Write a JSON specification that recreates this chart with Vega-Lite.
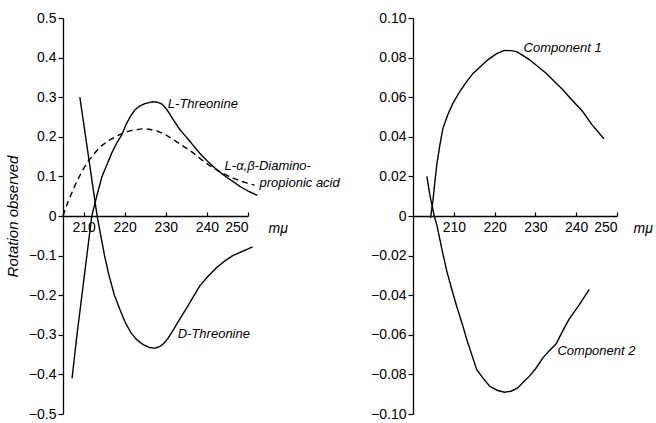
{
  "$schema": "https://vega.github.io/schema/vega-lite/v6.json",
  "padding": {"left": 5, "top": 11, "right": 0, "bottom": 0},
  "spacing": 165,
  "bounds": "flush",
  "config": {
    "view": {"stroke": null},
    "axis": {"labelFont": "Liberation Sans", "labelFontSize": 14, "labelColor": "black", "domainColor": "black", "tickColor": "black", "grid": false, "titleColor": "black", "titleFont": "Liberation Sans", "domainWidth": 1.3, "tickWidth": 1.2, "labelOverlap": false},
    "text": {"font": "Liberation Sans", "fontSize": 13, "fontStyle": "italic", "align": "left", "color": "black"}
  },
  "datasets": {
    "left": [
      {"series": "L-Threonine", "wl": 207.2, "rot": -0.41},
      {"series": "L-Threonine", "wl": 208.4, "rot": -0.30},
      {"series": "L-Threonine", "wl": 209.6, "rot": -0.20},
      {"series": "L-Threonine", "wl": 210.8, "rot": -0.10},
      {"series": "L-Threonine", "wl": 212.0, "rot": 0.0},
      {"series": "L-Threonine", "wl": 213.2, "rot": 0.05},
      {"series": "L-Threonine", "wl": 214.5, "rot": 0.10},
      {"series": "L-Threonine", "wl": 215.7, "rot": 0.13},
      {"series": "L-Threonine", "wl": 216.9, "rot": 0.16},
      {"series": "L-Threonine", "wl": 218.1, "rot": 0.185},
      {"series": "L-Threonine", "wl": 219.3, "rot": 0.205},
      {"series": "L-Threonine", "wl": 220.3, "rot": 0.23},
      {"series": "L-Threonine", "wl": 221.3, "rot": 0.25},
      {"series": "L-Threonine", "wl": 222.5, "rot": 0.268},
      {"series": "L-Threonine", "wl": 223.7, "rot": 0.278},
      {"series": "L-Threonine", "wl": 225.0, "rot": 0.284},
      {"series": "L-Threonine", "wl": 226.5, "rot": 0.288},
      {"series": "L-Threonine", "wl": 227.8, "rot": 0.288},
      {"series": "L-Threonine", "wl": 229.0, "rot": 0.283},
      {"series": "L-Threonine", "wl": 230.2, "rot": 0.27},
      {"series": "L-Threonine", "wl": 231.7, "rot": 0.245},
      {"series": "L-Threonine", "wl": 233.3, "rot": 0.22},
      {"series": "L-Threonine", "wl": 235.1, "rot": 0.198},
      {"series": "L-Threonine", "wl": 236.7, "rot": 0.178},
      {"series": "L-Threonine", "wl": 238.3, "rot": 0.158},
      {"series": "L-Threonine", "wl": 240.0, "rot": 0.14},
      {"series": "L-Threonine", "wl": 241.4, "rot": 0.126},
      {"series": "L-Threonine", "wl": 243.0, "rot": 0.112},
      {"series": "L-Threonine", "wl": 244.8, "rot": 0.098},
      {"series": "L-Threonine", "wl": 246.5, "rot": 0.086},
      {"series": "L-Threonine", "wl": 248.0, "rot": 0.075},
      {"series": "L-Threonine", "wl": 250.0, "rot": 0.063},
      {"series": "L-Threonine", "wl": 252.3, "rot": 0.052},
      {"series": "D-Threonine", "wl": 209.1, "rot": 0.30},
      {"series": "D-Threonine", "wl": 211.2, "rot": 0.15},
      {"series": "D-Threonine", "wl": 213.3, "rot": 0.0},
      {"series": "D-Threonine", "wl": 214.2, "rot": -0.05},
      {"series": "D-Threonine", "wl": 215.2, "rot": -0.105},
      {"series": "D-Threonine", "wl": 216.2, "rot": -0.15},
      {"series": "D-Threonine", "wl": 217.5, "rot": -0.20},
      {"series": "D-Threonine", "wl": 218.8, "rot": -0.235},
      {"series": "D-Threonine", "wl": 220.2, "rot": -0.27},
      {"series": "D-Threonine", "wl": 221.6, "rot": -0.296},
      {"series": "D-Threonine", "wl": 223.0, "rot": -0.313},
      {"series": "D-Threonine", "wl": 224.5, "rot": -0.325},
      {"series": "D-Threonine", "wl": 226.0, "rot": -0.332},
      {"series": "D-Threonine", "wl": 227.3, "rot": -0.334},
      {"series": "D-Threonine", "wl": 228.5, "rot": -0.33},
      {"series": "D-Threonine", "wl": 229.5, "rot": -0.322},
      {"series": "D-Threonine", "wl": 230.6, "rot": -0.308},
      {"series": "D-Threonine", "wl": 231.7, "rot": -0.29},
      {"series": "D-Threonine", "wl": 233.3, "rot": -0.262},
      {"series": "D-Threonine", "wl": 235.1, "rot": -0.232},
      {"series": "D-Threonine", "wl": 236.7, "rot": -0.204},
      {"series": "D-Threonine", "wl": 238.3, "rot": -0.176},
      {"series": "D-Threonine", "wl": 240.3, "rot": -0.152},
      {"series": "D-Threonine", "wl": 242.4, "rot": -0.13},
      {"series": "D-Threonine", "wl": 244.3, "rot": -0.114},
      {"series": "D-Threonine", "wl": 246.3, "rot": -0.1},
      {"series": "D-Threonine", "wl": 248.5, "rot": -0.09},
      {"series": "D-Threonine", "wl": 251.1, "rot": -0.078},
      {"series": "Diaminopropionic", "wl": 205.0, "rot": 0.0},
      {"series": "Diaminopropionic", "wl": 206.0, "rot": 0.03},
      {"series": "Diaminopropionic", "wl": 207.2, "rot": 0.06},
      {"series": "Diaminopropionic", "wl": 208.4, "rot": 0.088},
      {"series": "Diaminopropionic", "wl": 209.6, "rot": 0.112},
      {"series": "Diaminopropionic", "wl": 210.8, "rot": 0.134},
      {"series": "Diaminopropionic", "wl": 212.4, "rot": 0.155},
      {"series": "Diaminopropionic", "wl": 214.0, "rot": 0.174},
      {"series": "Diaminopropionic", "wl": 216.0, "rot": 0.19},
      {"series": "Diaminopropionic", "wl": 218.1, "rot": 0.202},
      {"series": "Diaminopropionic", "wl": 220.0, "rot": 0.211},
      {"series": "Diaminopropionic", "wl": 222.0, "rot": 0.217},
      {"series": "Diaminopropionic", "wl": 224.2, "rot": 0.22},
      {"series": "Diaminopropionic", "wl": 226.0, "rot": 0.219},
      {"series": "Diaminopropionic", "wl": 227.8, "rot": 0.215},
      {"series": "Diaminopropionic", "wl": 229.8, "rot": 0.206},
      {"series": "Diaminopropionic", "wl": 231.7, "rot": 0.194},
      {"series": "Diaminopropionic", "wl": 234.0, "rot": 0.178},
      {"series": "Diaminopropionic", "wl": 236.6, "rot": 0.16},
      {"series": "Diaminopropionic", "wl": 238.6, "rot": 0.143},
      {"series": "Diaminopropionic", "wl": 240.7, "rot": 0.127},
      {"series": "Diaminopropionic", "wl": 242.8, "rot": 0.114},
      {"series": "Diaminopropionic", "wl": 244.8, "rot": 0.103},
      {"series": "Diaminopropionic", "wl": 246.5, "rot": 0.095},
      {"series": "Diaminopropionic", "wl": 248.0, "rot": 0.089},
      {"series": "Diaminopropionic", "wl": 249.8, "rot": 0.083},
      {"series": "Diaminopropionic", "wl": 251.6, "rot": 0.078}
    ],
    "leftLabels": [
      {"label": "L-Threonine", "wl": 230.5, "rot": 0.283},
      {"label": "L-α,β-Diamino-", "wl": 244.3, "rot": 0.127},
      {"label": "propionic acid", "wl": 252.8, "rot": 0.083},
      {"label": "D-Threonine", "wl": 232.9, "rot": -0.297}
    ],
    "right": [
      {"series": "Component 1", "wl": 204.3, "rot": -0.001},
      {"series": "Component 1", "wl": 204.9, "rot": 0.008},
      {"series": "Component 1", "wl": 205.4, "rot": 0.018},
      {"series": "Component 1", "wl": 205.9, "rot": 0.027},
      {"series": "Component 1", "wl": 206.6, "rot": 0.036},
      {"series": "Component 1", "wl": 207.3, "rot": 0.044},
      {"series": "Component 1", "wl": 208.5, "rot": 0.051},
      {"series": "Component 1", "wl": 209.8, "rot": 0.057},
      {"series": "Component 1", "wl": 211.5, "rot": 0.063},
      {"series": "Component 1", "wl": 213.2, "rot": 0.068},
      {"series": "Component 1", "wl": 214.7, "rot": 0.072},
      {"series": "Component 1", "wl": 216.3, "rot": 0.075},
      {"series": "Component 1", "wl": 218.4, "rot": 0.079},
      {"series": "Component 1", "wl": 220.5, "rot": 0.082},
      {"series": "Component 1", "wl": 222.4, "rot": 0.0836},
      {"series": "Component 1", "wl": 224.0, "rot": 0.0835},
      {"series": "Component 1", "wl": 225.4, "rot": 0.083},
      {"series": "Component 1", "wl": 227.0, "rot": 0.081},
      {"series": "Component 1", "wl": 228.5, "rot": 0.079},
      {"series": "Component 1", "wl": 230.6, "rot": 0.0755},
      {"series": "Component 1", "wl": 232.7, "rot": 0.072},
      {"series": "Component 1", "wl": 234.6, "rot": 0.068},
      {"series": "Component 1", "wl": 236.6, "rot": 0.064},
      {"series": "Component 1", "wl": 239.0, "rot": 0.0585},
      {"series": "Component 1", "wl": 241.5, "rot": 0.053},
      {"series": "Component 1", "wl": 243.9, "rot": 0.046},
      {"series": "Component 1", "wl": 246.8, "rot": 0.039},
      {"series": "Component 2", "wl": 203.4, "rot": 0.02},
      {"series": "Component 2", "wl": 204.1, "rot": 0.011},
      {"series": "Component 2", "wl": 204.6, "rot": 0.006},
      {"series": "Component 2", "wl": 205.2, "rot": 0.0},
      {"series": "Component 2", "wl": 205.9, "rot": -0.005},
      {"series": "Component 2", "wl": 207.1, "rot": -0.017},
      {"series": "Component 2", "wl": 208.3, "rot": -0.028},
      {"series": "Component 2", "wl": 209.5, "rot": -0.037},
      {"series": "Component 2", "wl": 210.7, "rot": -0.0456},
      {"series": "Component 2", "wl": 212.0, "rot": -0.054},
      {"series": "Component 2", "wl": 213.2, "rot": -0.0625},
      {"series": "Component 2", "wl": 214.4, "rot": -0.07},
      {"series": "Component 2", "wl": 215.6, "rot": -0.0775},
      {"series": "Component 2", "wl": 217.2, "rot": -0.082},
      {"series": "Component 2", "wl": 218.8, "rot": -0.086},
      {"series": "Component 2", "wl": 220.6, "rot": -0.088},
      {"series": "Component 2", "wl": 222.4, "rot": -0.089},
      {"series": "Component 2", "wl": 224.0, "rot": -0.0885},
      {"series": "Component 2", "wl": 225.6, "rot": -0.087},
      {"series": "Component 2", "wl": 227.0, "rot": -0.084},
      {"series": "Component 2", "wl": 228.5, "rot": -0.081},
      {"series": "Component 2", "wl": 230.1, "rot": -0.077},
      {"series": "Component 2", "wl": 231.7, "rot": -0.072},
      {"series": "Component 2", "wl": 233.4, "rot": -0.068},
      {"series": "Component 2", "wl": 235.1, "rot": -0.0645},
      {"series": "Component 2", "wl": 236.7, "rot": -0.058},
      {"series": "Component 2", "wl": 238.3, "rot": -0.052},
      {"series": "Component 2", "wl": 240.7, "rot": -0.045},
      {"series": "Component 2", "wl": 243.2, "rot": -0.037}
    ],
    "rightLabels": [
      {"label": "Component 1", "wl": 227.1, "rot": 0.0846},
      {"label": "Component 2", "wl": 235.4, "rot": -0.068}
    ]
  },
  "hconcat": [
    {
      "width": 185,
      "height": 396,
      "encoding": {
        "x": {"field": "wl", "type": "quantitative",
          "scale": {"domain": [205, 250], "nice": false, "zero": false},
          "axis": {"values": [210, 220, 230, 240, 250], "offset": -198, "tickSize": -4, "labelPadding": 8, "labelOverlap": false,
            "title": "mμ", "titleX": 205, "titleY": 12, "titleAlign": "left", "titleBaseline": "middle", "titleFontSize": 14, "titleFontWeight": "normal", "titleFontStyle": "italic"}},
        "y": {"field": "rot", "type": "quantitative",
          "scale": {"domain": [-0.5, 0.5], "nice": false},
          "axis": {"values": [-0.5, -0.4, -0.3, -0.2, -0.1, 0, 0.1, 0.2, 0.3, 0.4, 0.5], "tickSize": 5, "labelPadding": 2, "labelOverlap": false, "labelFlush": false,
            "labelExpr": "datum.value == 0 ? '0' : format(datum.value, '.1f')",
            "title": "Rotation observed", "titleFontStyle": "italic", "titleFontWeight": "normal", "titleFontSize": 15, "titlePadding": 8}}
      },
      "layer": [
        {
          "data": {"name": "left"},
          "mark": {"type": "line", "color": "black", "strokeWidth": 1.4, "clip": false},
          "encoding": {
            "detail": {"field": "series"},
            "strokeDash": {"field": "series", "type": "nominal",
              "scale": {"domain": ["L-Threonine", "D-Threonine", "Diaminopropionic"], "range": [[1, 0], [1, 0], [6, 4]]},
              "legend": null}
          }
        },
        {
          "data": {"name": "leftLabels"},
          "mark": {"type": "text", "clip": false},
          "encoding": {
            "text": {"field": "label"}
          }
        }
      ]
    },
    {
      "width": 204,
      "height": 396,
      "encoding": {
        "x": {"field": "wl", "type": "quantitative",
          "scale": {"domain": [200, 250], "nice": false, "zero": false},
          "axis": {"values": [210, 220, 230, 240, 250], "offset": -198, "tickSize": -4, "labelPadding": 8, "labelOverlap": false,
            "title": "mμ", "titleX": 220, "titleY": 12, "titleAlign": "left", "titleBaseline": "middle", "titleFontSize": 14, "titleFontWeight": "normal", "titleFontStyle": "italic"}},
        "y": {"field": "rot", "type": "quantitative",
          "scale": {"domain": [-0.1, 0.1], "nice": false},
          "axis": {"values": [-0.1, -0.08, -0.06, -0.04, -0.02, 0, 0.02, 0.04, 0.06, 0.08, 0.1], "tickSize": 5, "labelPadding": 2, "labelOverlap": false, "labelFlush": false,
            "labelExpr": "datum.value == 0 ? '0' : format(datum.value, '.2f')",
            "title": null}}
      },
      "layer": [
        {
          "data": {"name": "right"},
          "mark": {"type": "line", "color": "black", "strokeWidth": 1.4, "clip": false},
          "encoding": {
            "detail": {"field": "series"}
          }
        },
        {
          "data": {"name": "rightLabels"},
          "mark": {"type": "text", "clip": false},
          "encoding": {
            "text": {"field": "label"}
          }
        }
      ]
    }
  ]
}
